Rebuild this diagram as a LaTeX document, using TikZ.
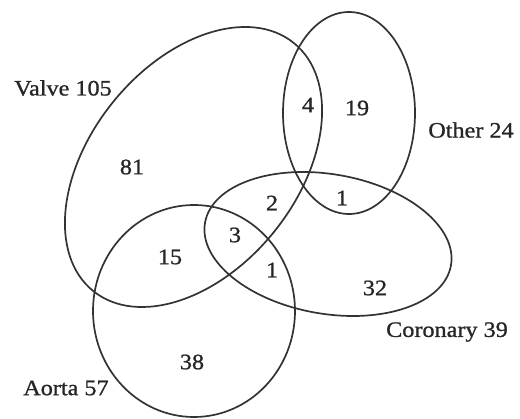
\documentclass[tikz,border=0pt]{standalone}
\usepackage{fontspec}
\setmainfont{Liberation Serif}[FakeStretch=1.1,FakeBold=1]
\usepackage{tikz}
\usetikzlibrary{positioning}

\begin{document}
\begin{tikzpicture}[x=1pt,y=-1pt,
    setline/.style={line width=1.7pt,draw=black!80},
    setname/.style={font=\fontsize{22}{24}\selectfont,text=black!85,inner sep=0pt},
    count/.style={font=\fontsize{22}{24}\selectfont,text=black!85,inner sep=0pt}]
  \useasboundingbox (0,0) rectangle (520,419);
  % the four sets
  \draw[setline,rotate around={51:(193.5,167)}] (193.5,167) ellipse [x radius=159.5,y radius=103.4];
  \draw[setline] (349,113) ellipse [x radius=66,y radius=101];
  \draw[setline,rotate around={-9.8:(328,244)}] (328,244) ellipse [x radius=124.8,y radius=69.8];
  \draw[setline] (194,311) ellipse [x radius=101,y radius=106];
  % set names
  \node[setname] (valve) at (63,88) {Valve 105};
  \node[setname] (other) at (471,130) {Other 24};
  \node[setname] (coronary) at (447,332) {Coronary 39};
  \node[setname] (aorta) at (66,388) {Aorta 57};
  % region counts
  \foreach \n/\x/\y/\v in {vo/308/105/4, o/357/108/19, v/132/167/81, vc/272/203/2,
      oc/342/198/1, vca/235/235/3, va/170/257/15, ca/272/270/1, c/375/288/32, a/192/362/38}{
    \node[count] (n-\n) at (\x,\y) {\v};
  }
\end{tikzpicture}
\end{document}
